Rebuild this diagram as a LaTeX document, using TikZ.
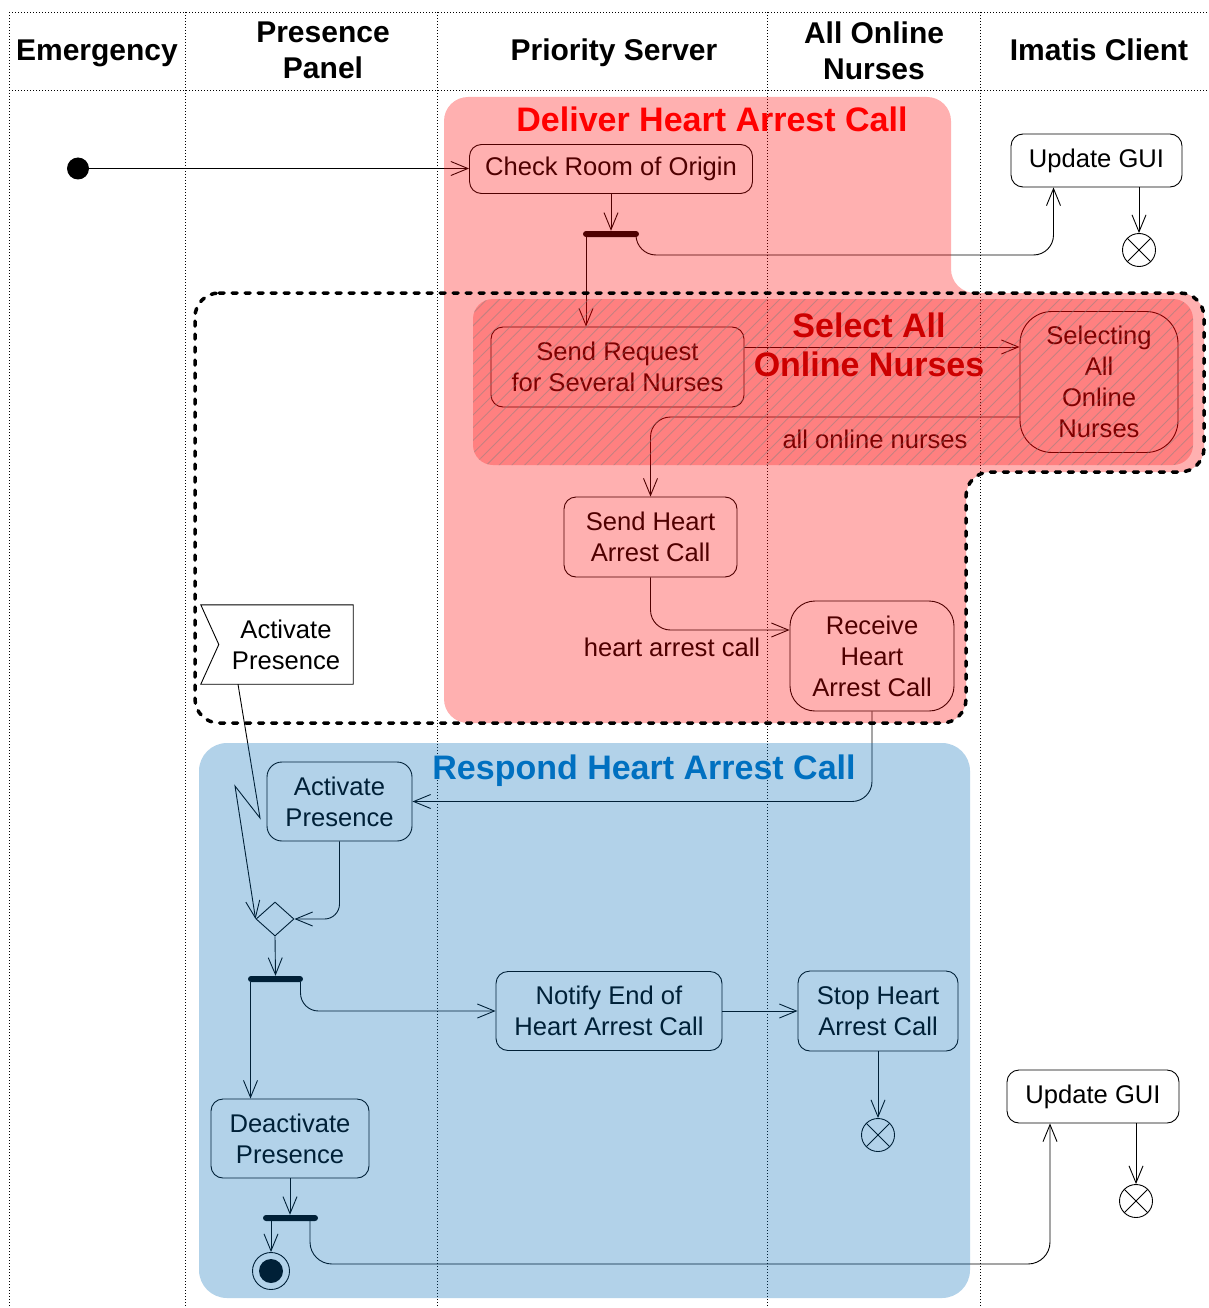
\documentclass[tikz,border=0pt]{standalone}
\usepackage{fontspec}
\setmainfont{Liberation Sans}
\usetikzlibrary{arrows.meta,shapes.geometric,patterns.meta}
\definecolor{regred}{RGB}{255,0,0}
\definecolor{regblue}{RGB}{0,108,185}
\definecolor{titlered}{RGB}{255,0,0}
\definecolor{titledark}{RGB}{204,0,0}
\definecolor{titleblue}{RGB}{0,112,192}
\definecolor{hatchgray}{RGB}{128,128,128}
\begin{document}
\begin{tikzpicture}[x=1pt,y=-1pt,
  lane/.style={line width=0.9pt, dash pattern=on 1pt off 2pt},
  head/.style={font=\fontsize{30}{36}\selectfont\bfseries, align=center, inner sep=0pt},
  act/.style={draw, rounded corners=12pt, line width=0.9pt, inner sep=0pt, align=center, font=\fontsize{25.6}{31}\selectfont},
  bar/.style={fill=black, rounded corners=3pt, inner sep=0pt, minimum height=6pt},
  flow/.style={line width=0.9pt, -{Straight Barb[length=17pt,width=14pt]}},
  ffinal/.style={circle, draw, line width=0.9pt, minimum size=33pt, inner sep=0pt,
     path picture={\draw[line width=0.9pt] (path picture bounding box.north west) -- (path picture bounding box.south east)
        (path picture bounding box.north east) -- (path picture bounding box.south west);}},
  lbl/.style={font=\fontsize{25.6}{31}\selectfont, inner sep=0pt, align=center},
  rtitle/.style={font=\fontsize{34}{39}\selectfont\bfseries, align=center, inner sep=0pt},
]
\useasboundingbox (0,0) rectangle (1209,1308);
\fill[white] (0,0) rectangle (1209,1308);

% swimlanes
\draw[lane] (9,12) -- (1209,12);
\draw[lane] (9,90) -- (1209,90);
\foreach \xx in {9,185,437,767,980} {\draw[lane] (\xx,12) -- (\xx,1308);}

\node[head, anchor=base] (hEm) at (97,61) {Emergency};
\node[head] (hPP) at (323,50.5) {Presence\\Panel};
\node[head, anchor=base] (hPS) at (614,61) {Priority Server};
\node[head] (hAO) at (874,50.5) {All Online\\Nurses};
\node[head, anchor=base] (hIC) at (1099,61) {Imatis Client};

% nodes
\node[circle, fill=black, minimum size=22pt, inner sep=0pt] (init) at (78,168.5) {};
\node[act, minimum width=283pt, minimum height=49pt] (check) at (611,169) {Check Room of Origin};
\node[bar, minimum width=56pt] (fork1) at (611,234) {};
\node[act, minimum width=171pt, minimum height=53pt] (gui1) at (1096.5,160.5) {Update GUI};
\node[ffinal] (ff1) at (1139,250) {};
\node[act, minimum width=253pt, minimum height=80pt] (sendreq) at (617.5,367) {Send Request\\for Several Nurses};
\node[act, rounded corners=32pt, minimum width=158pt, minimum height=141pt] (selecting) at (1099,382) {Selecting\\All\\Online\\Nurses};
\node[act, minimum width=173pt, minimum height=80pt] (sendheart) at (650.5,537) {Send Heart\\Arrest Call};
\node[act, rounded corners=25pt, minimum width=164pt, minimum height=110pt] (receive) at (872,656) {Receive\\Heart\\Arrest Call};

\node[minimum width=152pt, minimum height=79pt, inner sep=0pt] (sig) at (277,644.5) {};
\draw[line width=0.9pt] (sig.north west) -- (sig.north east) -- (sig.south east) -- (sig.south west) -- ([xshift=18pt]sig.west) -- cycle;
\node[lbl] (sigtxt) at ([xshift=9pt]sig.center) {Activate\\Presence};

\node[act, rounded corners=15pt, minimum width=145pt, minimum height=79pt] (actp) at (339.5,801.5) {Activate\\Presence};
\node[diamond, draw, line width=0.9pt, minimum width=38pt, minimum height=34pt, inner sep=0pt] (dec) at (275,919) {};
\node[bar, minimum width=55pt] (fork2) at (275.5,979) {};
\node[act, minimum width=226pt, minimum height=79pt] (notify) at (609,1011) {Notify End of\\Heart Arrest Call};
\node[act, minimum width=160pt, minimum height=80pt] (stop) at (878,1011) {Stop Heart\\Arrest Call};
\node[ffinal] (ff2) at (878,1135) {};
\node[act, minimum width=158pt, minimum height=79pt] (deact) at (290,1138.5) {Deactivate\\Presence};
\node[bar, minimum width=55pt] (fork3) at (290.5,1218) {};
\node[circle, draw, line width=0.9pt, minimum size=37pt, inner sep=0pt,
      path picture={\fill (path picture bounding box.center) circle (12);}] (final) at (271,1271) {};
\node[act, minimum width=172pt, minimum height=53pt] (gui2) at (1093,1096.5) {Update GUI};
\node[ffinal] (ff3) at (1136,1201) {};

% helper coordinates
\coordinate (f1l) at ([xshift=-25pt]fork1.south);
\coordinate (f1r) at ([xshift=25pt]fork1.south);
\coordinate (g1in) at ([xshift=-43pt]gui1.south);
\coordinate (srE) at ([yshift=20pt]sendreq.east);
\coordinate (selW) at ([yshift=-35pt]selecting.west);
\coordinate (recW) at ([yshift=26pt]receive.west);
\coordinate (sigout) at ([xshift=-39pt]sig.south);
\coordinate (z1) at (260,818);
\coordinate (z2) at (235,786);
\coordinate (f2l) at ([xshift=-25pt]fork2.south);
\coordinate (f2r) at ([xshift=25pt]fork2.south);
\coordinate (f3l) at ([xshift=-19.5pt]fork3.south);
\coordinate (f3r) at ([xshift=19.5pt]fork3.south);
\coordinate (g2in) at ([xshift=-43pt]gui2.south);

% edges
\draw[flow] (init.east) -- (init.east -| check.west);
\draw[flow] (check.south) -- (fork1.north);
\draw[flow] (f1l) -- (f1l |- sendreq.north);
\draw[flow, rounded corners=20pt] (f1r) |- (g1in |- 0,255) -- (g1in);
\draw[flow] (gui1.south -| ff1) -- (ff1.north);
\draw[flow] (srE) -- (srE -| selecting.west);
\draw[flow, rounded corners=20pt] (selW) -| (sendheart.north);
\node[lbl] (lab1) at (875,439) {all online nurses};
\draw[flow, rounded corners=20pt] (sendheart.south) |- (recW);
\node[lbl] (lab2) at (672,647) {heart arrest call};
\draw[flow, rounded corners=20pt] (receive.south) |- (actp.east);
\draw[flow] (sigout) -- (z1) -- (z2) -- (dec.west);
\draw[flow, rounded corners=15pt] (actp.south) |- (dec.east);
\draw[flow] (dec.south) -- (fork2.north);
\draw[flow] (f2l) -- (f2l |- deact.north);
\draw[flow, rounded corners=18pt] (f2r) |- (notify.west);
\draw[flow] (notify.east) -- (stop.west);
\draw[flow] (stop.south) -- (ff2.north);
\draw[flow] (deact.south) -- (deact.south |- fork3.north);
\draw[flow] (f3l) -- (final.north);
\draw[flow, rounded corners=22pt] (f3r) |- (g2in |- 0,1264) -- (g2in);
\draw[flow] (gui2.south -| ff3) -- (ff3.north);

% regions (translucent overlays)
\fill[regred, opacity=0.31, rounded corners=24pt] (444,97) -- (951,97) -- (951,293) -- (1204,293) -- (1204,472) -- (966,472) -- (966,723) -- (444,723) -- cycle;
\fill[regred, opacity=0.27, rounded corners=20pt] (473,299) rectangle (1193,465);
\fill[pattern={Lines[angle=45,distance=9pt,line width=0.9pt]}, pattern color=hatchgray, opacity=0.45, rounded corners=20pt] (473,299) rectangle (1193,465);
\fill[regblue, opacity=0.3, rounded corners=28pt] (199,743) rectangle (970,1298);

% interruptible region outline
\draw[line width=3.5pt, dash pattern=on 5pt off 8pt, line cap=round, rounded corners=24pt] (195,293) -- (1204,293) -- (1204,472) -- (966,472) -- (966,723) -- (195,723) -- cycle;

% titles
\node[rtitle, text=titlered, anchor=base] (tDel) at (712,132) {Deliver Heart Arrest Call};
\node[rtitle, text=titledark] (tSel) at (869,345) {Select All\\Online Nurses};
\node[rtitle, text=titleblue, anchor=base] (tResp) at (644,779) {Respond Heart Arrest Call};
\end{tikzpicture}
\end{document}
